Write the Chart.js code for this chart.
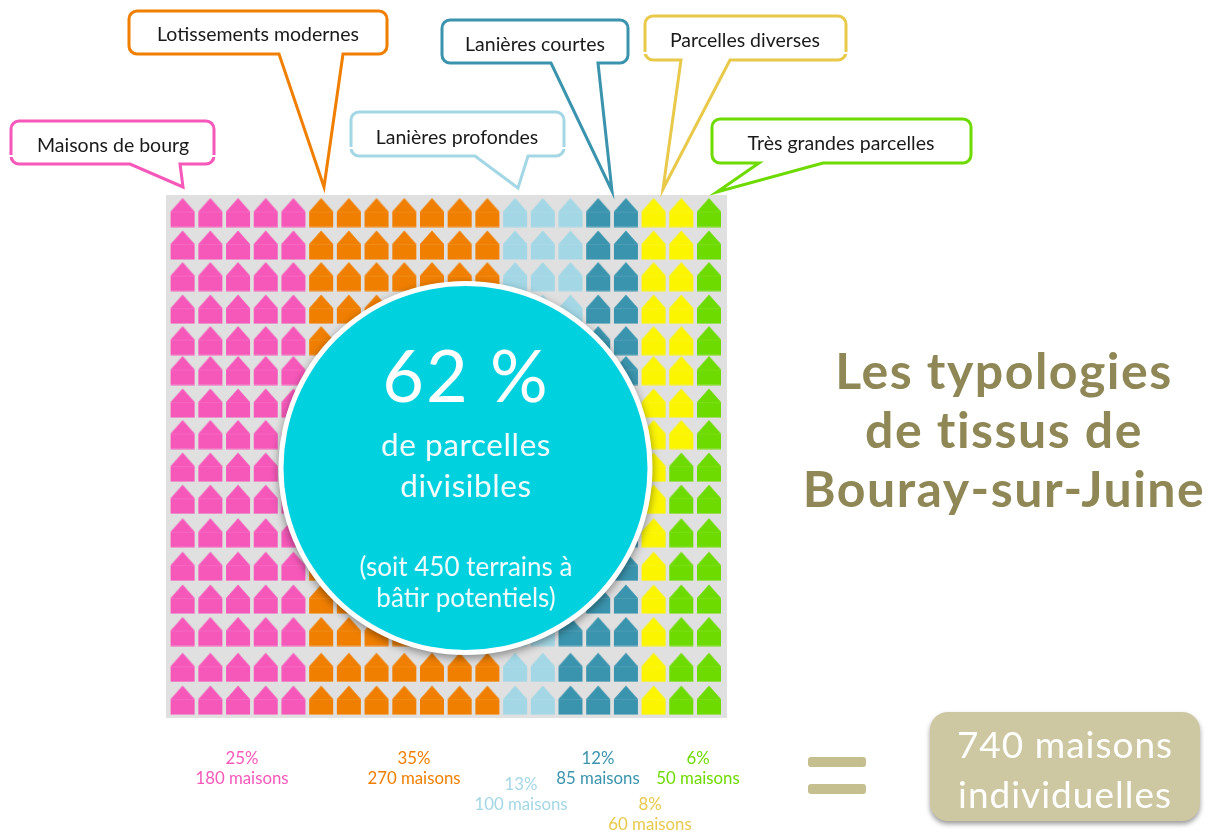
<!DOCTYPE html>
<html lang="fr">
<head>
<meta charset="utf-8">
<title>Les typologies de tissus de Bouray-sur-Juine</title>
<script src="https://cdn.jsdelivr.net/npm/chart.js@4"></script>
<style>
  html, body { margin: 0; padding: 0; background: #fff; }
  #chart { display: block; }
</style>
</head>
<body>
<canvas id="chart" width="1215" height="832"></canvas>
<script>
// Données
const categories = ['Maisons de bourg', 'Lotissements modernes', 'Lanières profondes', 'Lanières courtes', 'Parcelles diverses', 'Très grandes parcelles'];
const percents = ['25%', '35%', '13%', '12%', '8%', '6%'];
const maisons = ['180 maisons', '270 maisons', '100 maisons', '85 maisons', '60 maisons', '50 maisons'];

// Nombre de maisons par rangée (16 rangées, de haut en bas)
const maisonsDeBourg = [5, 5, 5, 5, 5, 5, 5, 5, 5, 5, 5, 5, 5, 5, 5, 5];
const lotissements = [7, 7, 7, 7, 7, 7, 7, 7, 7, 7, 7, 7, 7, 7, 7, 7];
const laneresProfondes = [3, 3, 3, 3, 3, 3, 3, 3, 2, 2, 2, 2, 2, 2, 2, 2];
const laneresCourtes = [2, 2, 2, 2, 2, 2, 2, 2, 3, 3, 3, 3, 3, 3, 3, 3];
const parcellesDiverses = [2, 2, 2, 2, 2, 2, 2, 2, 1, 1, 1, 1, 1, 1, 1, 1];
const tresGrandes = [1, 1, 1, 1, 1, 1, 1, 1, 2, 2, 2, 2, 2, 2, 2, 2];
const rowValues = [1, 2, 2.97, 3.97, 4.94, 5.86, 6.86, 7.83, 8.83, 9.82, 10.85, 11.88, 12.89, 13.89, 14.99, 16];

const series = [maisonsDeBourg, lotissements, laneresProfondes, laneresCourtes, parcellesDiverses, tresGrandes];

// Styles
const colors = ['#F658BA', '#F07F00', '#A3D7E5', '#3A94AD', '#FBF500', '#6EDB00'];
const labelColors = ['#F658BA', '#F07F00', '#A3D7E5', '#3A94AD', '#E8C94A', '#6EDB00'];
const outlineColors = ['#F658BA', '#F07F00', '#A3D7E5', '#3A94AD', '#E8C94A', '#6EDB00'];
const FONT = 'Lato, "Open Sans", sans-serif';

// Icône de maison utilisée comme pointStyle
function houseIcon(color) {
    const c = document.createElement('canvas');
    c.width = 26;
    c.height = 30;
    const g = c.getContext('2d');
    g.beginPath();
    g.moveTo(1, 14);
    g.lineTo(13, 0.5);
    g.lineTo(25, 14);
    g.lineTo(25, 29.5);
    g.lineTo(1, 29.5);
    g.closePath();
    g.fillStyle = color;
    g.fill();
    g.beginPath();
    g.moveTo(1, 14.5);
    g.lineTo(25, 14.5);
    g.strokeStyle = 'rgba(255,255,255,0.1)';
    g.lineWidth = 1;
    g.stroke();
    return c;
}

// Une rangée après l'autre, de gauche à droite
function cellsFor(index) {
    return series[index].map((count, row) => {
        let start = 1;
        for (let i = 0; i < index; i++) start += series[i][row];
        const cells = [];
        for (let k = 0; k < count; k++) cells.push({ x: start + k, y: rowValues[row] });
        return cells;
    }).flat();
}

const datasets = categories.map((name, i) => ({
    label: name,
    data: cellsFor(i),
    showLine: false,
    pointStyle: houseIcon(colors[i]),
    pointRadius: 12,
    pointHoverRadius: 12
}));

// Bulles : rectangle, base de la pointe et extrémité, coupure éventuelle du contour
const bubbles = [
    { box: [11, 121, 214, 164], tail: [130, 183, 187, 180], text: [113, 145], notch: 155 },
    { box: [129, 11, 387, 54], tail: [279, 324, 187, 343], text: [258, 34] },
    { box: [351, 112, 564, 156], tail: [475, 518, 188, 528], text: [457, 137], notch: 147 },
    { box: [442, 20, 628, 63], tail: [551, 612, 191, 598], text: [535, 44] },
    { box: [645, 16, 846, 60], tail: [681, 663, 189, 730], text: [745, 40], notch: 52 },
    { box: [712, 119, 971, 163], tail: [759, 717, 192, 823], text: [841, 143] }
];
const labelSpots = [[242, 758], [414, 758], [521, 784], [598, 758], [650, 804], [698, 758]];

function text(ctx, str, x, y, size, color, weight, spacing) {
    ctx.font = `${weight || 'normal'} ${size}px ${FONT}`;
    ctx.letterSpacing = (spacing || 0) + 'px';
    ctx.fillStyle = color;
    ctx.textAlign = 'center';
    ctx.textBaseline = 'middle';
    ctx.fillText(str, x, y);
}

function drawBubble(ctx, b, color) {
    const [x0, y0, x1, y1] = b.box;
    const [t1, tipX, tipY, t2] = b.tail;
    const r = 8;
    ctx.beginPath();
    ctx.moveTo(x0 + r, y0);
    ctx.arcTo(x1, y0, x1, y1, r);
    ctx.arcTo(x1, y1, x0, y1, r);
    ctx.lineTo(t2, y1);
    ctx.lineTo(tipX, tipY);
    ctx.lineTo(t1, y1);
    ctx.arcTo(x0, y1, x0, y0, r);
    ctx.arcTo(x0, y0, x1, y0, r);
    ctx.closePath();
    ctx.fillStyle = '#fff';
    ctx.fill();
    ctx.strokeStyle = color;
    ctx.lineWidth = 3;
    ctx.lineJoin = 'miter';
    ctx.stroke();
    if (b.notch) {
        ctx.fillStyle = '#fff';
        ctx.fillRect(x0 - 2, b.notch, 4, 2);
        ctx.fillRect(x1 - 2, b.notch, 4, 2);
    }
}

function roundBox(ctx, x, y, w, h, r) {
    ctx.beginPath();
    ctx.roundRect(x, y, w, h, r);
    ctx.fill();
}

const backgroundPlugin = {
    id: 'greyPanel',
    beforeDatasetsDraw(chart) {
        const { ctx, chartArea: a } = chart;
        ctx.save();
        ctx.fillStyle = '#E0E0E0';
        ctx.fillRect(a.left, a.top, a.right - a.left, a.bottom - a.top);
        ctx.restore();
    }
};

const annotationsPlugin = {
    id: 'annotations',
    afterDatasetsDraw(chart) {
        const ctx = chart.ctx;
        ctx.save();

        bubbles.forEach((b, i) => {
            drawBubble(ctx, b, outlineColors[i]);
            text(ctx, categories[i], b.text[0], b.text[1] + 0.5, 19.5, '#1A1A1A');
        });

        // Disque central
        ctx.save();
        ctx.shadowColor = 'rgba(0,0,0,0.4)';
        ctx.shadowBlur = 8;
        ctx.shadowOffsetY = 3;
        ctx.fillStyle = '#fff';
        ctx.beginPath();
        ctx.arc(465.5, 468, 187, 0, Math.PI * 2);
        ctx.fill();
        ctx.restore();
        ctx.fillStyle = '#00D1DF';
        ctx.beginPath();
        ctx.arc(465.5, 468, 182, 0, Math.PI * 2);
        ctx.fill();

        text(ctx, '62 %', 466, 379, 72, '#fff', 'normal', 2);
        text(ctx, 'de parcelles', 466, 446, 31.5, '#F2FCFD', 'normal', 0.6);
        text(ctx, 'divisibles', 466, 487, 31.5, '#F2FCFD', 'normal', 0.6);
        text(ctx, '(soit 450 terrains à', 466, 568, 26, '#F2FCFD');
        text(ctx, 'bâtir potentiels)', 466, 599, 26, '#F2FCFD');

        // Pourcentages et nombres sous la grille
        percents.forEach((p, i) => {
            const [x, y] = labelSpots[i];
            text(ctx, p, x, y + 0.5, 16.8, labelColors[i]);
            text(ctx, maisons[i], x, y + 21, 16.8, labelColors[i]);
        });

        // Titre
        text(ctx, 'Les typologies', 1004, 373, 50, '#8F8755', 'bold', 1.5);
        text(ctx, 'de tissus de', 1004, 432, 50, '#8F8755', 'bold', 1.5);
        text(ctx, 'Bouray-sur-Juine', 1004, 491, 50, '#8F8755', 'bold', 1.5);

        // Égal
        ctx.fillStyle = '#C5BF8F';
        roundBox(ctx, 808, 757, 58, 10, 3);
        roundBox(ctx, 808, 784, 58, 10, 3);

        // Total
        ctx.save();
        ctx.shadowColor = 'rgba(0,0,0,0.4)';
        ctx.shadowBlur = 5;
        ctx.shadowOffsetY = 3;
        ctx.fillStyle = '#CEC8A2';
        roundBox(ctx, 930, 712, 270, 109, 18);
        ctx.restore();
        text(ctx, '740 maisons', 1065, 746, 37, '#fff', 'normal', 1);
        text(ctx, 'individuelles', 1065, 796, 37, '#fff', 'normal', 1);

        ctx.restore();
    }
};

new Chart(document.getElementById('chart'), {
    type: 'scatter',
    data: { datasets },
    options: {
        responsive: false,
        animation: false,
        layout: { padding: { left: 166, top: 195, right: 488, bottom: 114 } },
        plugins: { legend: { display: false }, tooltip: { enabled: false } },
        scales: {
            x: { type: 'linear', display: false, min: 0.4, max: 20.65 },
            y: { type: 'linear', display: false, reverse: true, min: 0.46, max: 16.55 }
        }
    },
    plugins: [backgroundPlugin, annotationsPlugin]
});
</script>
</body>
</html>
